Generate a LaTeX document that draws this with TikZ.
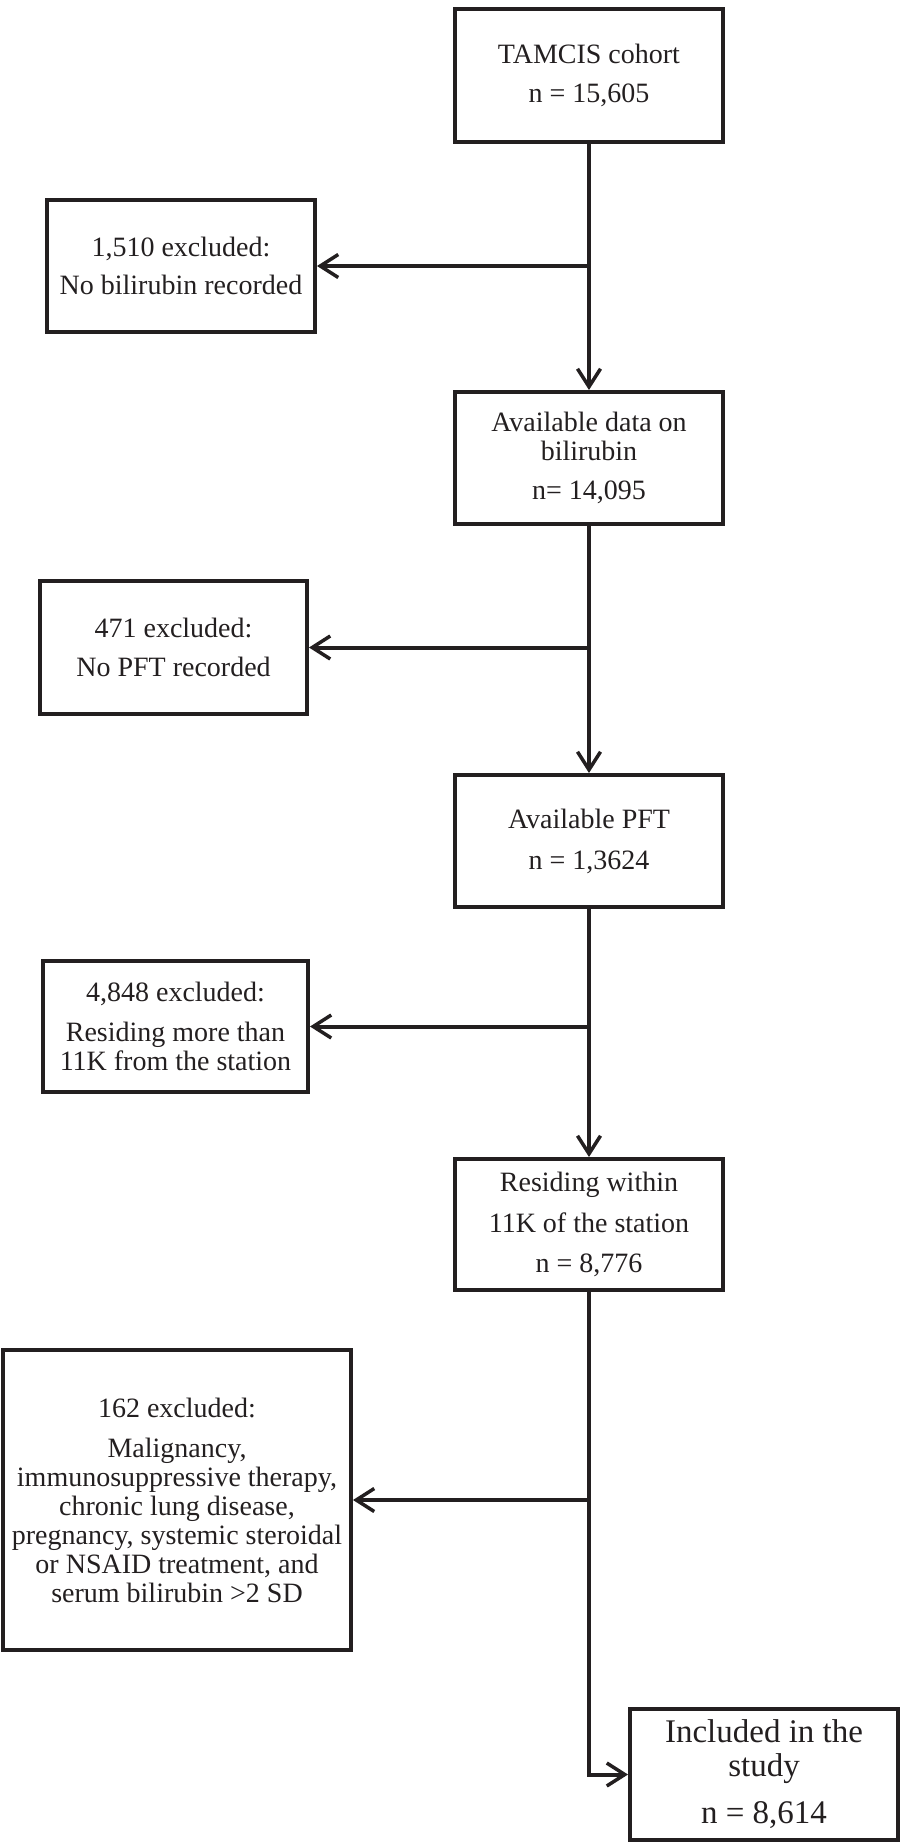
\documentclass[tikz,border=0pt]{standalone}
\usepackage{fontspec}
\setmainfont{Liberation Serif}
\usetikzlibrary{arrows.meta}
\definecolor{ink}{RGB}{35,31,32}
\begin{document}
\begin{tikzpicture}[x=1pt,y=-1pt,
  box/.style={draw=ink, line width=4pt, inner sep=0pt, align=center, text=ink,
              font=\fontsize{28}{29}\selectfont},
  arr/.style={draw=ink, line width=4pt, -{Straight Barb[length=18pt,width=23pt,line width=3.5pt]}},
  ln/.style={draw=ink, line width=4pt}]
\useasboundingbox (0,0) rectangle (912,1844);
% main column
\node[box, minimum width=268pt, minimum height=133pt] (top) at (589,75.5)
  {TAMCIS cohort\\[10pt]n = 15,605};
\node[box, minimum width=268pt, minimum height=132pt] (b2) at (589,458)
  {Available data on\\bilirubin\\[10pt]n= 14,095};
\node[box, minimum width=268pt, minimum height=132pt] (b3) at (589,841)
  {Available PFT\\[12pt]n = 1,3624};
\node[box, minimum width=268pt, minimum height=131pt] (b4) at (589,1224.5)
  {Residing within\\[12pt]11K of the station\\[11pt]n = 8,776};
\node[box, minimum width=268pt, minimum height=131pt, font=\fontsize{33}{34}\selectfont] (inc) at (764,1774.5)
  {Included in the\\study\\[13pt]n = 8,614};
% exclusion boxes
\node[box, minimum width=268pt, minimum height=132pt] (e1) at (181,266)
  {1,510 excluded:\\[9pt]No bilirubin recorded};
\node[box, minimum width=267pt, minimum height=133pt] (e2) at (173.5,647.5)
  {471 excluded:\\[10pt]No PFT recorded};
\node[box, minimum width=265pt, minimum height=131pt] (e3) at (175.5,1026.5)
  {4,848 excluded:\\[11pt]Residing more than\\11K from the station};
\node[box, minimum width=348pt, minimum height=300pt] (e4) at (177,1500)
  {162 excluded:\\[11pt]Malignancy,\\immunosuppressive therapy,\\chronic lung disease,\\pregnancy, systemic steroidal\\or NSAID treatment, and\\serum bilirubin >2 SD};
% junctions
\coordinate (j1) at (589,266);
\coordinate (j2) at (589,647.5);
\coordinate (j3) at (589,1026.5);
\coordinate (j4) at (589,1500);
% connectors
\draw[arr] (top.south) -- (b2.north);
\draw[arr] (b2.south) -- (b3.north);
\draw[arr] (b3.south) -- (b4.north);
\draw[arr] (b4.south) |- (inc.west);
\draw[arr] (j1) -- (e1.east);
\draw[arr] (j2) -- (e2.east);
\draw[arr] (j3) -- (e3.east);
\draw[arr] (j4) -- (e4.east);
\end{tikzpicture}
\end{document}
